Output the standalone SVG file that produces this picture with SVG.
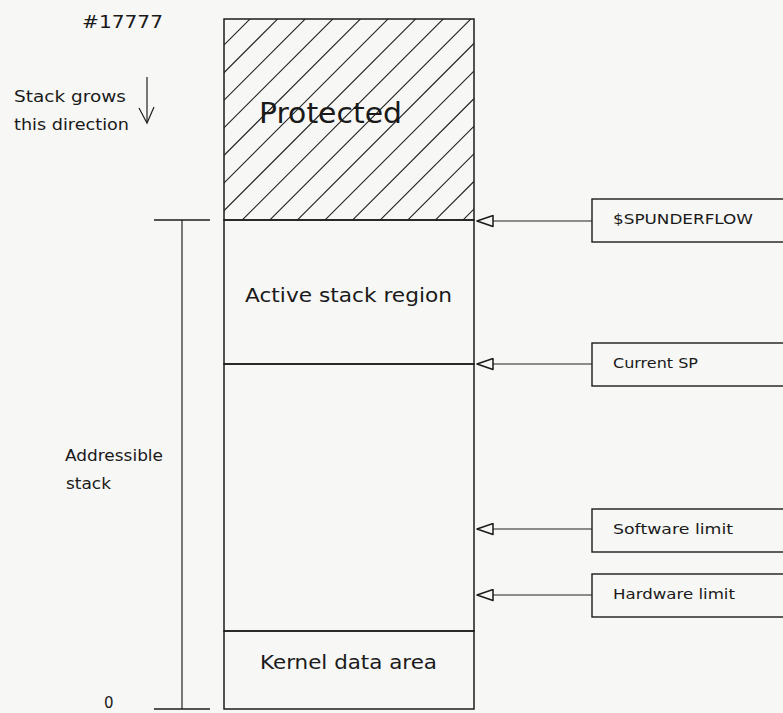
<svg xmlns="http://www.w3.org/2000/svg" width="783" height="713" viewBox="0 0 783 713">
  <style>
    .ln { stroke: #1c1c1c; stroke-width: 1.5; fill: none; }
    .thin { stroke: #222; stroke-width: 1.2; fill: none; }
    .box { stroke: #1c1c1c; stroke-width: 1.4; fill: none; }
    .t { font-family: "DejaVu Sans", "Liberation Sans", sans-serif; fill: #1a1a1a; }
    .hatch line { stroke: #222; stroke-width: 1.1; }
  </style>
  <defs>
    <clipPath id="protClip">
      <rect x="224" y="19" width="250" height="201"/>
    </clipPath>
    <marker id="openHead" viewBox="0 0 18 13" refX="17" refY="6.5" markerWidth="18" markerHeight="13" markerUnits="userSpaceOnUse" orient="auto">
      <path d="M1,1 L17,6.5 L1,12 Z" fill="#f7f7f5" stroke="#1a1a1a" stroke-width="1.5" stroke-linejoin="round"/>
    </marker>
  </defs>
  <rect x="0" y="0" width="783" height="713" fill="#f7f7f5"/>

  <text class="t" x="82" y="28" font-size="17" textLength="81" lengthAdjust="spacingAndGlyphs">#17777</text>

  <g id="growth-note">
    <text class="t" x="14" y="102" font-size="15" textLength="112" lengthAdjust="spacingAndGlyphs">Stack grows</text>
    <text class="t" x="14" y="130" font-size="15" textLength="115" lengthAdjust="spacingAndGlyphs">this direction</text>
    <line class="thin" x1="147" y1="77" x2="147" y2="122"/>
    <polyline class="thin" points="139,108 147,123 154,107"/>
  </g>

  <g id="protected">
    <rect class="ln" x="224" y="19" width="250" height="201"/>
    <g class="hatch" clip-path="url(#protClip)">
      <line x1="39" y1="230" x2="259" y2="10"/>
      <line x1="66.6" y1="230" x2="286.6" y2="10"/>
      <line x1="94.2" y1="230" x2="314.2" y2="10"/>
      <line x1="121.8" y1="230" x2="341.8" y2="10"/>
      <line x1="149.4" y1="230" x2="369.4" y2="10"/>
      <line x1="177" y1="230" x2="397" y2="10"/>
      <line x1="204.6" y1="230" x2="424.6" y2="10"/>
      <line x1="232.2" y1="230" x2="452.2" y2="10"/>
      <line x1="259.8" y1="230" x2="479.8" y2="10"/>
      <line x1="287.4" y1="230" x2="507.4" y2="10"/>
      <line x1="315" y1="230" x2="535" y2="10"/>
      <line x1="342.6" y1="230" x2="562.6" y2="10"/>
      <line x1="370.2" y1="230" x2="590.2" y2="10"/>
      <line x1="397.8" y1="230" x2="617.8" y2="10"/>
      <line x1="425.4" y1="230" x2="645.4" y2="10"/>
      <line x1="453" y1="230" x2="673" y2="10"/>
    </g>
    <text class="t" x="259" y="123" font-size="29" textLength="143" lengthAdjust="spacingAndGlyphs">Protected</text>
  </g>

  <g id="active-stack-region">
    <rect class="ln" x="224" y="220" width="250" height="144"/>
    <text class="t" x="245" y="302" font-size="20" textLength="207" lengthAdjust="spacingAndGlyphs">Active stack region</text>
  </g>

  <g id="free-stack">
    <rect class="ln" x="224" y="364" width="250" height="267"/>
  </g>

  <g id="kernel-data-area">
    <rect class="ln" x="224" y="631" width="250" height="78"/>
    <text class="t" x="260" y="669" font-size="19" textLength="177" lengthAdjust="spacingAndGlyphs">Kernel data area</text>
  </g>

  <g id="addressable-stack">
    <line class="ln" x1="154" y1="220" x2="210" y2="220"/>
    <line class="ln" x1="154" y1="709" x2="210" y2="709"/>
    <line class="thin" x1="182" y1="220" x2="182" y2="709"/>
    <text class="t" x="65" y="461" font-size="15" textLength="98" lengthAdjust="spacingAndGlyphs">Addressible</text>
    <text class="t" x="66" y="489" font-size="15" textLength="45" lengthAdjust="spacingAndGlyphs">stack</text>
    <text class="t" x="104" y="708" font-size="15">0</text>
  </g>

  <g id="spunderflow">
    <rect class="box" x="592" y="199" width="200" height="43"/>
    <text class="t" x="613" y="224" font-size="14" textLength="140" lengthAdjust="spacingAndGlyphs">$SPUNDERFLOW</text>
  </g>
  <g id="current-sp">
    <rect class="box" x="592" y="343" width="200" height="43"/>
    <text class="t" x="613" y="368" font-size="14" textLength="85" lengthAdjust="spacingAndGlyphs">Current SP</text>
  </g>
  <g id="software-limit">
    <rect class="box" x="592" y="509" width="200" height="43"/>
    <text class="t" x="613" y="534" font-size="14" textLength="120" lengthAdjust="spacingAndGlyphs">Software limit</text>
  </g>
  <g id="hardware-limit">
    <rect class="box" x="592" y="574" width="200" height="43"/>
    <text class="t" x="613" y="599" font-size="14" textLength="122" lengthAdjust="spacingAndGlyphs">Hardware limit</text>
  </g>

  <g id="connectors">
    <line class="thin" x1="592" y1="221" x2="477" y2="221" marker-end="url(#openHead)"/>
    <line class="thin" x1="592" y1="364" x2="477" y2="364" marker-end="url(#openHead)"/>
    <line class="thin" x1="592" y1="529" x2="477" y2="529" marker-end="url(#openHead)"/>
    <line class="thin" x1="592" y1="595" x2="477" y2="595" marker-end="url(#openHead)"/>
  </g>
</svg>
